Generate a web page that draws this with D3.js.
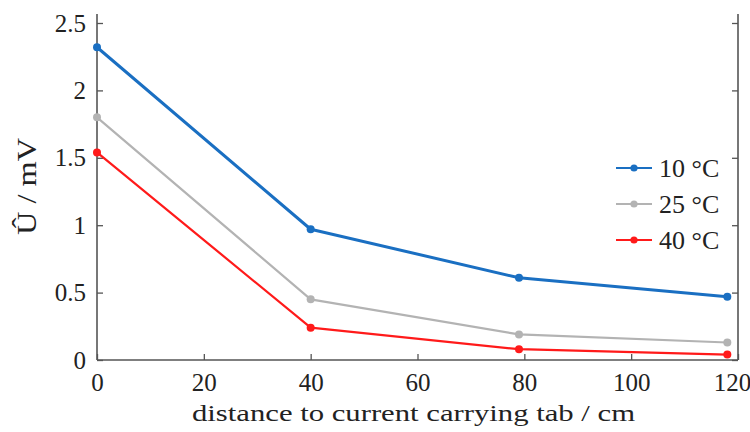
<!DOCTYPE html>
<html>
<head>
<meta charset="utf-8">
<script src="https://cdn.jsdelivr.net/npm/d3@7"></script>
<style>
  html, body { margin: 0; padding: 0; background: #fff; }
</style>
</head>
<body>
<svg id="chart" width="750" height="432"></svg>
<script>
// Measured voltage amplitude along the cell at three temperatures
const distances = [0, 40, 79, 118];
const series10 = [2.32, 0.97, 0.61, 0.47];
const series25 = [1.80, 0.45, 0.19, 0.13];
const series40 = [1.54, 0.24, 0.08, 0.04];
const seriesNames = ["10 °C", "25 °C", "40 °C"];
const seriesColors = ["#1a6fc2", "#b3b3b3", "#ff1a1a"];
const xTicks = [0, 20, 40, 60, 80, 100, 120];
const yTicks = [0, 0.5, 1, 1.5, 2, 2.5];

const FONT = "Liberation Serif";
const svg = d3.select("#chart");

const x = d3.scaleLinear().domain([0, 120]).range([97, 738]);
const y = d3.scaleLinear().domain([0, 2.5]).range([360, 23]);

const axisColor = "#555";

// bottom axis (ticks pointing into the plot)
const gx = svg.append("g")
  .attr("transform", `translate(0,${y(0)})`)
  .call(d3.axisBottom(x).tickValues(xTicks).tickSize(-6).tickPadding(13).tickFormat(d3.format("d")));
// left axis
const gy = svg.append("g")
  .attr("transform", `translate(${x(0)},0)`)
  .call(d3.axisLeft(y).tickValues(yTicks).tickSize(-6).tickPadding(11).tickFormat(d => String(d)));
// right axis, ticks only
const gr = svg.append("g")
  .attr("transform", `translate(${x(120)},0)`)
  .call(d3.axisRight(y).tickValues(yTicks).tickSize(-6).tickFormat(""));

[gx, gy, gr].forEach(g => {
  g.attr("font-family", FONT);
  g.select(".domain").attr("stroke", axisColor).attr("stroke-width", 1.6);
  g.selectAll(".tick line").attr("stroke", axisColor).attr("stroke-width", 1.3);
  g.selectAll(".tick text").attr("font-size", 25).attr("fill", "#222")
    .attr("font-family", FONT).style("font-family", FONT);
});
// keep the last x label inside the frame
gx.selectAll(".tick text").filter(d => d === 120).attr("dx", -6);
// extend vertical axes slightly above the top tick
gy.select(".domain").attr("d", `M0,${y(0)}V14`);
gr.select(".domain").attr("d", `M0,${y(0)}V14`);
gx.select(".domain").attr("d", `M${x(0)},0H${x(120)}`);

// data lines and markers
const allSeries = [series10, series25, series40];
const widths = [3, 2.2, 2.2];
const line = d3.line().x((d, i) => x(distances[i])).y(d => y(d));

// draw back to front so the 10 °C curve stays on top
[2, 1, 0].forEach(k => {
  const vals = allSeries[k];
  svg.append("path")
    .datum(vals)
    .attr("d", line)
    .attr("fill", "none")
    .attr("stroke", seriesColors[k])
    .attr("stroke-width", widths[k])
    .attr("stroke-linejoin", "round");
  svg.append("g").selectAll("circle")
    .data(vals)
    .join("circle")
    .attr("cx", (d, i) => x(distances[i]))
    .attr("cy", d => y(d))
    .attr("r", 4)
    .attr("fill", seriesColors[k]);
});

// legend
const legend = svg.append("g");
seriesNames.forEach((name, i) => {
  const ly = 168 + i * 36;
  legend.append("line")
    .attr("x1", 616).attr("x2", 652).attr("y1", ly).attr("y2", ly)
    .attr("stroke", seriesColors[i]).attr("stroke-width", 2.2);
  legend.append("circle").attr("cx", 634).attr("cy", ly).attr("r", 3.6).attr("fill", seriesColors[i]);
  legend.append("text")
    .attr("x", 659).attr("y", ly + 9)
    .attr("font-size", 26)
    .attr("font-family", FONT).style("font-family", FONT)
    .attr("fill", "#222")
    .text(name);
});

// axis titles
svg.append("text")
  .attr("x", 192).attr("y", 421)
  .attr("font-size", 24)
  .attr("textLength", 443).attr("lengthAdjust", "spacingAndGlyphs")
  .attr("font-family", FONT).style("font-family", FONT)
  .attr("fill", "#222")
  .text("distance to current carrying tab / cm");

svg.append("text")
  .attr("transform", `translate(36,235) rotate(-90)`)
  .attr("font-size", 27)
  .attr("textLength", 97).attr("lengthAdjust", "spacingAndGlyphs")
  .attr("font-family", FONT).style("font-family", FONT)
  .attr("fill", "#222")
  .text("Û  / mV");
</script>
</body>
</html>
